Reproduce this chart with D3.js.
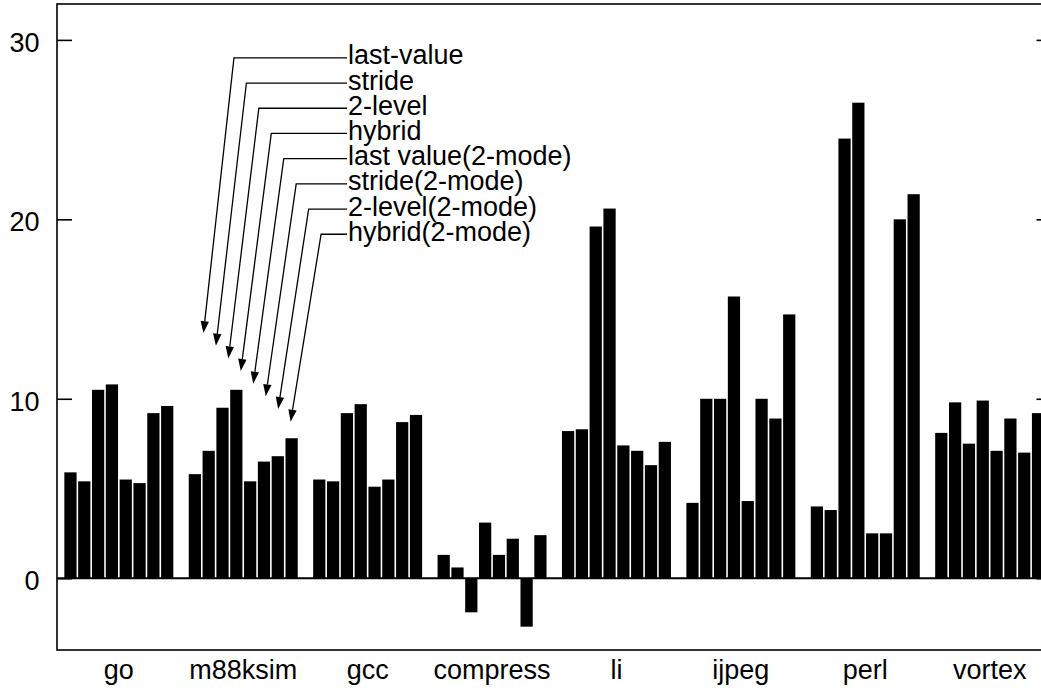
<!DOCTYPE html>
<html>
<head>
<meta charset="utf-8">
<script src="https://cdn.jsdelivr.net/npm/d3@7"></script>
<style>
  html, body { margin: 0; padding: 0; background: #fff; }
  svg { display: block; }
  text { font-family: "Liberation Sans", Arial, Helvetica, sans-serif; fill: #000; }
</style>
</head>
<body>
<svg id="chart" width="1041" height="690"></svg>
<script>
// Benchmarks along the x axis
const benchmarks = ["go", "m88ksim", "gcc", "compress", "li", "ijpeg", "perl", "vortex"];

// Predictor names, in bar order inside each benchmark group
const predictors = [
  "last-value", "stride", "2-level", "hybrid",
  "last value(2-mode)", "stride(2-mode)", "2-level(2-mode)", "hybrid(2-mode)"
];

// One array per predictor, one value per benchmark
const lastValue       = [5.9, 5.8, 5.5,  1.3,  8.2,  4.2,  4.0, 8.1];
const stride          = [5.4, 7.1, 5.4,  0.6,  8.3, 10.0,  3.8, 9.8];
const twoLevel        = [10.5, 9.5, 9.2, -1.9, 19.6, 10.0, 24.5, 7.5];
const hybrid          = [10.8, 10.5, 9.7, 3.1, 20.6, 15.7, 26.5, 9.9];
const lastValue2Mode  = [5.5, 5.4, 5.1,  1.3,  7.4,  4.3,  2.5, 7.1];
const stride2Mode     = [5.3, 6.5, 5.5,  2.2,  7.1, 10.0,  2.5, 8.9];
const twoLevel2Mode   = [9.2, 6.8, 8.7, -2.7,  6.3,  8.9, 20.0, 7.0];
const hybrid2Mode     = [9.6, 7.8, 9.1,  2.4,  7.6, 14.7, 21.4, 9.2];

const yTicks = [0, 10, 20, 30];

const seriesValues = [lastValue, stride, twoLevel, hybrid,
                      lastValue2Mode, stride2Mode, twoLevel2Mode, hybrid2Mode];

// Flatten into rows for the bars
const rows = [];
benchmarks.forEach((b, bi) => {
  predictors.forEach((p, pi) => {
    rows.push({ benchmark: b, predictor: p, value: seriesValues[pi][bi] });
  });
});

const svg = d3.select("#chart");
const W = 1041, H = 690;

// Plot frame (right edge runs just past the visible canvas)
const frameLeft = 57, frameRight = 1051.5, frameTop = 4, frameBottom = 650;

const x = d3.scaleBand()
  .domain(benchmarks)
  .range([frameLeft, frameRight])
  .paddingInner(0.124)
  .paddingOuter(0.059);

const xInner = d3.scaleBand()
  .domain(predictors)
  .range([0, x.bandwidth()])
  .paddingInner(0.115)
  .paddingOuter(0);

const y = d3.scaleLinear()
  .domain([-4, 32])
  .range([frameBottom, frameTop]);

// Bars
svg.append("g")
  .selectAll("rect")
  .data(rows)
  .join("rect")
  .attr("x", d => x(d.benchmark) + xInner(d.predictor))
  .attr("width", xInner.bandwidth())
  .attr("y", d => y(Math.max(0, d.value)))
  .attr("height", d => Math.abs(y(d.value) - y(0)))
  .attr("fill", "#000");

// Zero line
svg.append("line")
  .attr("x1", frameLeft).attr("x2", W)
  .attr("y1", y(0)).attr("y2", y(0))
  .attr("stroke", "#000").attr("stroke-width", 2);

// Frame
svg.append("rect")
  .attr("x", frameLeft).attr("y", frameTop)
  .attr("width", frameRight - frameLeft).attr("height", frameBottom - frameTop)
  .attr("fill", "none").attr("stroke", "#000").attr("stroke-width", 1.6);

// Left axis: inward ticks
const yAxisLeft = d3.axisRight(y).tickValues(yTicks).tickSize(15).tickFormat("");
const gl = svg.append("g").attr("transform", `translate(${frameLeft},0)`).call(yAxisLeft);
gl.select(".domain").remove();
gl.selectAll(".tick line").attr("stroke", "#000").attr("stroke-width", 1.6);

// Right axis: inward ticks only
const yAxisRight = d3.axisLeft(y).tickValues(yTicks).tickSize(15).tickFormat("");
const gr = svg.append("g").attr("transform", `translate(${frameRight},0)`).call(yAxisRight);
gr.select(".domain").remove();
gr.selectAll(".tick line").attr("stroke", "#000").attr("stroke-width", 1.6);

// Y tick labels
svg.append("g")
  .selectAll("text")
  .data(yTicks)
  .join("text")
  .attr("x", 39.5)
  .attr("y", d => y(d) + 12)
  .attr("text-anchor", "end")
  .style("font-size", "27px")
  .text(d => d);

// Benchmark labels
svg.append("g")
  .selectAll("text")
  .data(benchmarks)
  .join("text")
  .attr("x", d => x(d) + x.bandwidth() / 2)
  .attr("y", 679)
  .attr("text-anchor", "middle")
  .style("font-size", "27px")
  .text(d => d);

// Legend: stacked names with leader arrows pointing at the m88ksim group
const legendX = 348;
const rowY0 = y(29.0);
const rowStep = 25.2;
const tipX0 = x("m88ksim") + 14.7;
const tipY0 = y(13.66);
const tipStepX = 12.45, tipStepY = 12.65;
const elbowDx = 30.5;

const legend = svg.append("g");
predictors.forEach((name, i) => {
  const ry = rowY0 + i * rowStep;
  const tx = tipX0 + i * tipStepX;
  const ty = tipY0 + i * tipStepY;
  const ex = tx + elbowDx;

  // Arrowhead geometry along the slanted leg
  const dx = tx - ex, dy = ty - ry;
  const len = Math.hypot(dx, dy);
  const ux = dx / len, uy = dy / len;
  const headLen = 12, headHalf = 4.2;
  const bx = tx - ux * headLen, by = ty - uy * headLen;
  const px = -uy, py = ux;

  legend.append("path")
    .attr("d", `M${legendX - 1},${ry} L${ex},${ry} L${bx},${by}`)
    .attr("fill", "none")
    .attr("stroke", "#000")
    .attr("stroke-width", 1.3);

  legend.append("path")
    .attr("d", `M${tx},${ty} L${bx + px * headHalf},${by + py * headHalf} L${bx - px * headHalf},${by - py * headHalf} Z`)
    .attr("fill", "#000");

  legend.append("text")
    .attr("x", legendX)
    .attr("y", ry + 6.5)
    .style("font-size", "27px")
    .text(name);
});
</script>
</body>
</html>
